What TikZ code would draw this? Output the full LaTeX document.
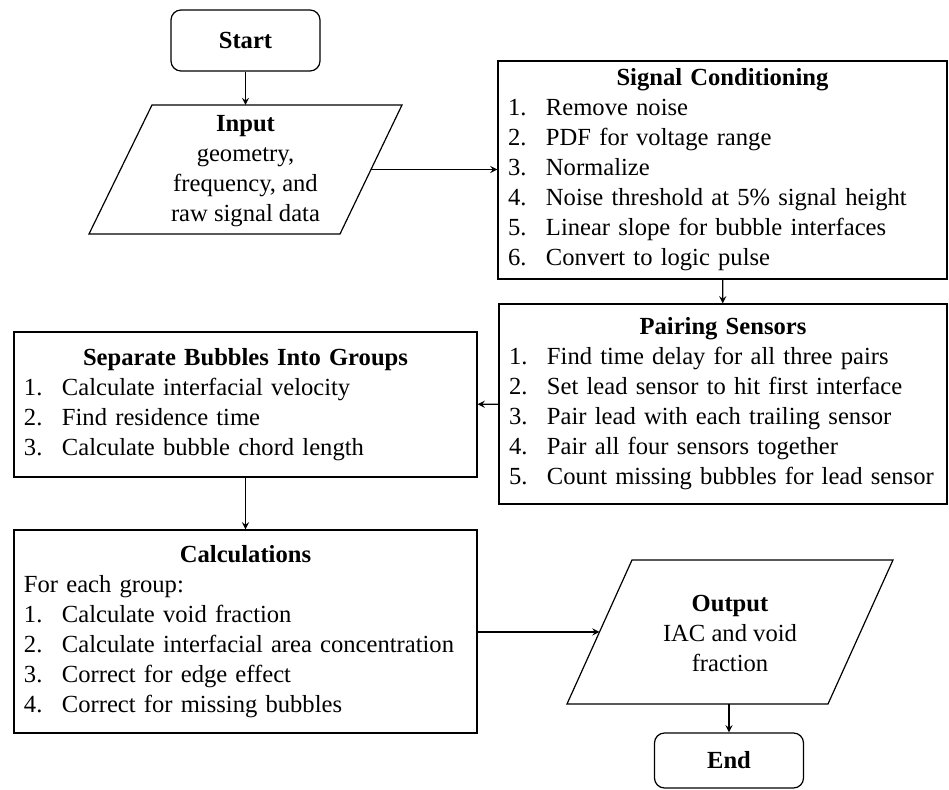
\documentclass[tikz,border=0pt]{standalone}
\usepackage{fontspec}
\setmainfont{Liberation Serif}
\hyphenpenalty=10000
\newcommand{\numitem}[2]{\makebox[19pt][l]{#1}#2}

\begin{document}
\begin{tikzpicture}[>=stealth, x=0.5pt, y=-0.5pt, line width=0.6pt,
    font=\fontsize{12.3}{15}\selectfont,
    term/.style={draw, rounded corners=5pt, minimum width=74.5pt, font=\fontsize{12.3}{15}\selectfont\bfseries},
    io/.style={align=center, inner sep=0pt},
    listbox/.style={draw, align=left, inner xsep=5pt, inner ysep=0pt}]
\useasboundingbox (0,0) rectangle (949,790);
\node[term, minimum height=30.5pt](start) at (245.5,40.5){Start};
% input
\draw(152,105)--(402,105)--(340,234)--(89,234)--cycle;
\node[io](input) at (245.5,171.5){\textbf{Input}\\geometry,\\frequency, and\\raw signal data};
\coordinate(input top) at (245.5,105);
\coordinate(input right) at (371,169.5);
\node[listbox, text width=214.5pt, minimum height=109pt](signal) at (722.5,170){\centering\textbf{Signal Conditioning}\par\raggedright
    \numitem{1.}{Remove noise}\\
    \numitem{2.}{PDF for voltage range}\\
    \numitem{3.}{Normalize}\\
    \numitem{4.}{Noise threshold at 5\% signal height}\\
    \numitem{5.}{Linear slope for bubble interfaces}\\
    \numitem{6.}{Convert to logic pulse}};
\node[listbox, text width=214pt, minimum height=100pt](pairing) at (723,404){\centering\textbf{Pairing Sensors}\par\raggedright
    \numitem{1.}{Find time delay for all three pairs}\\
    \numitem{2.}{Set lead sensor to hit first interface}\\
    \numitem{3.}{Pair lead with each trailing sensor}\\
    \numitem{4.}{Pair all four sensors together}\\
    \numitem{5.}{Count missing bubbles for lead sensor}};
\node[listbox, text width=221.5pt, minimum height=72.5pt](separate) at (245.5,404.5){\centering\textbf{Separate Bubbles Into Groups}\par\raggedright
    \numitem{1.}{Calculate interfacial velocity}\\
    \numitem{2.}{Find residence time}\\
    \numitem{3.}{Calculate bubble chord length}};
\node[listbox, text width=221.5pt, minimum height=101.5pt](calc) at (245.5,631.5){\centering\textbf{Calculations}\par\raggedright
    For each group:\\
    \numitem{1.}{Calculate void fraction}\\
    \numitem{2.}{Calculate interfacial area concentration}\\
    \numitem{3.}{Correct for edge effect}\\
    \numitem{4.}{Correct for missing bubbles}};
% output
\draw(632,560)--(893,560)--(828,704)--(567,704)--cycle;
\node[io](output) at (730,633){\textbf{Output}\\IAC and void\\fraction};
\coordinate(output left) at (599.5,632);
\coordinate(output bottom) at (729,704);
\node[term, minimum height=27.5pt](end) at (729,760.5){End};
% connectors
\draw[->](start)--(input top);
\draw[->](input right)--(signal.west |- input right);
\draw[->](signal)--(pairing);
\draw[->](pairing)--(separate);
\draw[->](separate)--(calc);
\draw[->](calc.east |- output left)--(output left);
\draw[->](output bottom)--(end);
\end{tikzpicture}
\end{document}
